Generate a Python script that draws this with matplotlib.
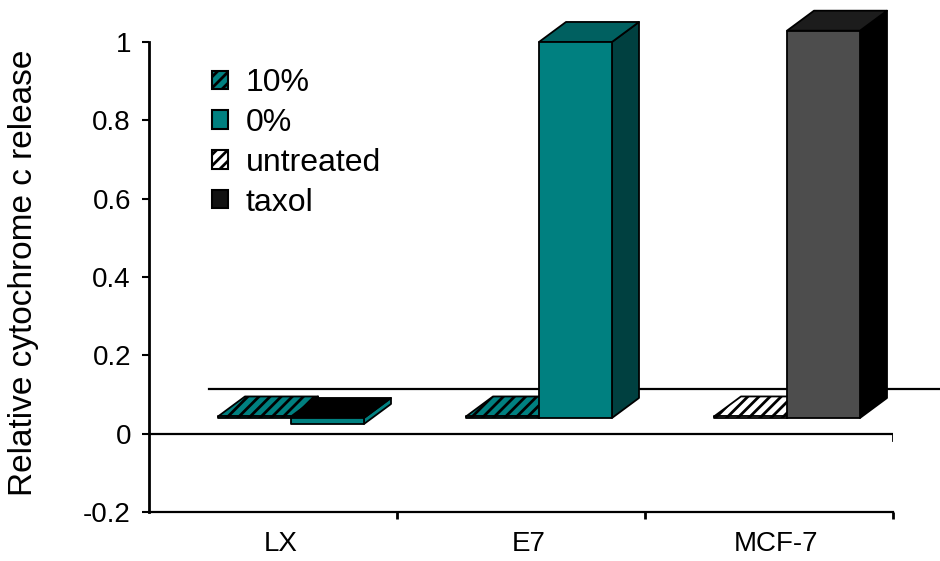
import matplotlib
matplotlib.use("Agg")
import matplotlib.pyplot as plt
from matplotlib.patches import Polygon, Rectangle, Patch

# ---- data -------------------------------------------------------------
categories = ["LX", "E7", "MCF-7"]
left_series = ["10%", "10%", "untreated"]
left_values = [0.004, 0.004, 0.004]
right_series = ["0%", "0%", "taxol"]
right_values = [-0.016, 1.0, 1.03]
legend_labels = ["10%", "0%", "untreated", "taxol"]
y_ticks = [-0.2, 0, 0.2, 0.4, 0.6, 0.8, 1]
y_tick_labels = ["-0.2", "0", "0.2", "0.4", "0.6", "0.8", "1"]
y_label = "Relative cytochrome c release"

# ---- styles -----------------------------------------------------------
styles = {
    "10%": dict(front="#008080", top="#008080", side="#008080", hatch="///", swatch="#008080"),
    "0%": dict(front="#008080", top="#006060", side="#004040", hatch=None, swatch="#008080"),
    "untreated": dict(front="#ffffff", top="#ffffff", side="#ffffff", hatch="///", swatch="#ffffff"),
    "taxol": dict(front="#4d4d4d", top="#1c1c1c", side="#000000", hatch=None, swatch="#111111"),
}

plt.rcParams["font.family"] = ["Liberation Sans", "DejaVu Sans"]
plt.rcParams["hatch.linewidth"] = 2.0

W, H = 940, 561
L, R, T, B = 149, 893, 42, 512          # plot frame in pixels
fig = plt.figure(figsize=(W / 100, H / 100), dpi=100)
rect = [L / W, 1 - B / H, (R - L) / W, (B - T) / H]

# front plane: the value axis
ax = fig.add_axes(rect)
ax.set_xlim(-0.5, 2.5)
ax.set_ylim(-0.2, 1.0)
px_x = (R - L) / 3.0
px_y = (B - T) / 1.2

for s in ("top", "right"):
    ax.spines[s].set_visible(False)
ax.spines["left"].set_linewidth(2.0)
ax.spines["bottom"].set_linewidth(1.6)
ax.set_yticks(y_ticks)
ax.set_yticklabels(y_tick_labels, fontsize=20)
ax.tick_params(axis="y", direction="out", length=5, width=1.5, pad=8)

# category ticks and labels
boundary_ticks = [0.5, 1.5, 2.5]
label_pos = [0.03, 1.03, 2.03]
ax.set_xticks(boundary_ticks)
ax.set_xticklabels([])
ax.tick_params(axis="x", which="major", direction="out", length=5, width=2)
ax.set_xticks(label_pos, minor=True)
ax.set_xticklabels(categories, minor=True, fontsize=20)
ax.tick_params(axis="x", which="minor", length=0, pad=14)

# floor of the zero plane: front and back edges
floor_dx = 60 / px_x
floor_dy = 45 / px_y
ax.plot([-0.5, 2.5], [0, 0], color="black", lw=1.6, solid_capstyle="butt")
ax.plot([2.5, 2.5], [0, -6 / px_y], color="black", lw=2)
ax.plot([-0.5 + floor_dx, 2.5 + floor_dx], [floor_dy, floor_dy],
        color="black", lw=1.6, clip_on=False)

# bar plane: sits a third of the way into the floor, slightly smaller scale
row_dx_px, row_dy_px = 18, 15.7
persp = 0.96
bx = fig.add_axes(rect)
bx.set_axis_off()
bx.patch.set_visible(False)
zero_px = B - 0.2 * px_y - row_dy_px
by = px_y * persp
bx.set_xlim(-0.5 - row_dx_px / px_x, 2.5 - row_dx_px / px_x)
bx.set_ylim(-(B - zero_px) / by, (zero_px - T) / by)

bar_w = 73 / px_x
depth_dx = 27 / px_x
depth_dy = 20 / by


def draw_box(x0, v, st):
    lo, hi = min(0.0, v), max(0.0, v)
    top_c, side_c = st["top"], st["side"]
    if v < 0:
        top_c, side_c = "#000000", st["front"]
    kw = dict(edgecolor="black", lw=1.3, hatch=st["hatch"], joinstyle="round",
              clip_on=False)
    x1 = x0 + bar_w
    side = Polygon([(x1, lo), (x1 + depth_dx, lo + depth_dy),
                    (x1 + depth_dx, hi + depth_dy), (x1, hi)], facecolor=side_c, **kw)
    top = Polygon([(x0, hi), (x1, hi), (x1 + depth_dx, hi + depth_dy),
                   (x0 + depth_dx, hi + depth_dy)], facecolor=top_c, **kw)
    front = Rectangle((x0, lo), bar_w, hi - lo, facecolor=st["front"], **kw)
    for p in (side, top, front):
        bx.add_patch(p)


for i in range(len(categories)):
    draw_box(i - bar_w, left_values[i], styles[left_series[i]])
    draw_box(i, right_values[i], styles[right_series[i]])

# legend
handles = [Patch(facecolor=styles[k]["swatch"], edgecolor="black", lw=1.5,
                 hatch=styles[k]["hatch"], label=k) for k in legend_labels]
fig.legend(handles=handles, loc="upper left",
           bbox_to_anchor=(212 / W, 1 - 68 / H), frameon=False, fontsize=23,
           handlelength=0.5, handleheight=0.5, handletextpad=0.55,
           labelspacing=0.31, borderpad=0, borderaxespad=0)

fig.text(24 / W, 1 - 273 / H, y_label, rotation=90, ha="center", va="center",
         fontsize=24)

fig.savefig("out.png", dpi=100)
